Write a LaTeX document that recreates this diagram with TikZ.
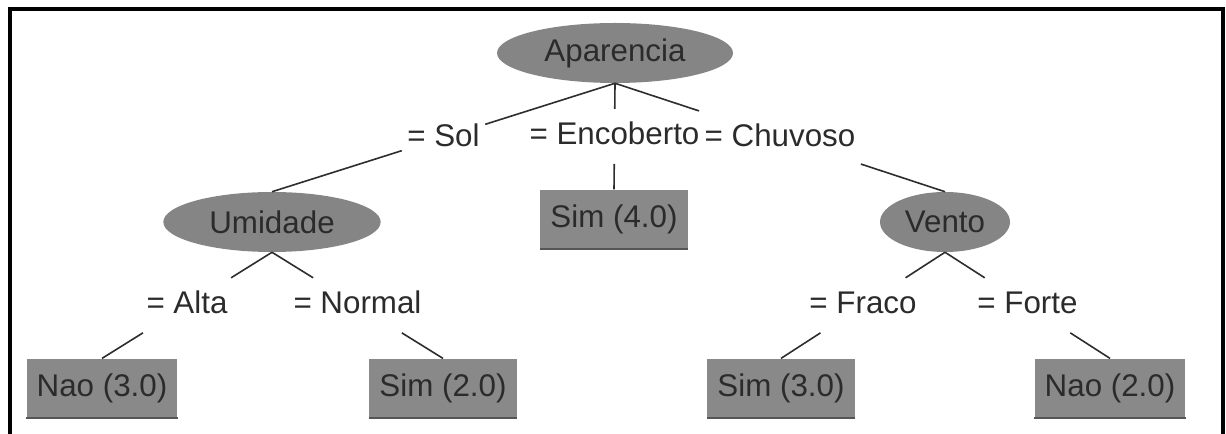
\documentclass[tikz,border=0pt]{standalone}
\usepackage{fontspec}
\setmainfont{Liberation Sans}
\usetikzlibrary{shapes.geometric,calc}

\begin{document}
\begin{tikzpicture}[x=0.75pt,y=0.75pt,yscale=-1,xscale=1,
		every node/.style={font=\fontsize{23.5}{28}\selectfont, text={rgb, 255:red, 43; green, 43; blue, 43 }},
		attr/.style={ellipse, fill={rgb, 255:red, 133; green, 133; blue, 133 }, inner sep=0pt, minimum height=45pt},
		leaf/.style={rectangle, fill={rgb, 255:red, 137; green, 137; blue, 137 }, minimum height=44pt, inner xsep=7.5pt, inner ysep=0pt},
		leafedge/.style={draw={rgb, 255:red, 85; green, 85; blue, 85 }, line width=1.5pt},
		branch/.style={draw={rgb, 255:red, 45; green, 45; blue, 45 }, line width=1.2pt},
		cond/.style={inner xsep=4pt, inner ysep=9.3pt, text height=17.6pt, text depth=4.7pt}]
		\useasboundingbox (0,0) rectangle (1226,434);
		
		%Frame
		\draw [line width=3pt] (9.5,434) -- (9.5,9) -- (1222.5,9) -- (1222.5,434) ;
		
		%Shape: Ellipse
		\node [attr, minimum width=177pt] (apar) at (615,53) {Aparencia};
		\node [attr, minimum width=163pt] (umid) at (272,222) {Umidade};
		\node [attr, minimum width=97.5pt] (vento) at (945,222) {Vento};
		
		%Shape: Rectangle
		\node [leaf] (sim4) at (614,219) {Sim (4.0)};
		\node [leaf] (nao3) at (102,388) {Nao (3.0)};
		\node [leaf] (sim2) at (443,388) {Sim (2.0)};
		\node [leaf] (sim3) at (781,388) {Sim (3.0)};
		\node [leaf] (nao2) at (1110,388) {Nao (2.0)};
		\foreach \n in {sim4,nao3,sim2,sim3,nao2}
			\draw [leafedge] (\n.south west) -- (\n.south east) ;
		
		% Text Node
		\node [cond] (sol) at ($(apar.south)!0.5!(umid.north)$) {= Sol};
		\node [cond] (enc) at ($(apar.south)!0.5!(sim4.north)$) {= Encoberto};
		\node [cond] (chuv) at ($(apar.south)!0.5!(vento.north)$) {= Chuvoso};
		\node [cond] (alta) at ($(umid.south)!0.5!(nao3.north)$) {= Alta};
		\node [cond] (normal) at ($(umid.south)!0.5!(sim2.north)$) {= Normal};
		\node [cond] (fraco) at ($(vento.south)!0.5!(sim3.north)$) {= Fraco};
		\node [cond] (forte) at ($(vento.south)!0.5!(nao2.north)$) {= Forte};
		
		%Straight Lines
		\draw [branch] (apar.south) -- (sol) -- (umid.north) ;
		\draw [branch] (apar.south) -- (enc) -- (sim4.north) ;
		\draw [branch] (apar.south) -- (chuv) -- (vento.north) ;
		\draw [branch] (umid.south) -- (alta) -- (nao3.north) ;
		\draw [branch] (umid.south) -- (normal) -- (sim2.north) ;
		\draw [branch] (vento.south) -- (fraco) -- (sim3.north) ;
		\draw [branch] (vento.south) -- (forte) -- (nao2.north) ;
	\end{tikzpicture}
\end{document}
